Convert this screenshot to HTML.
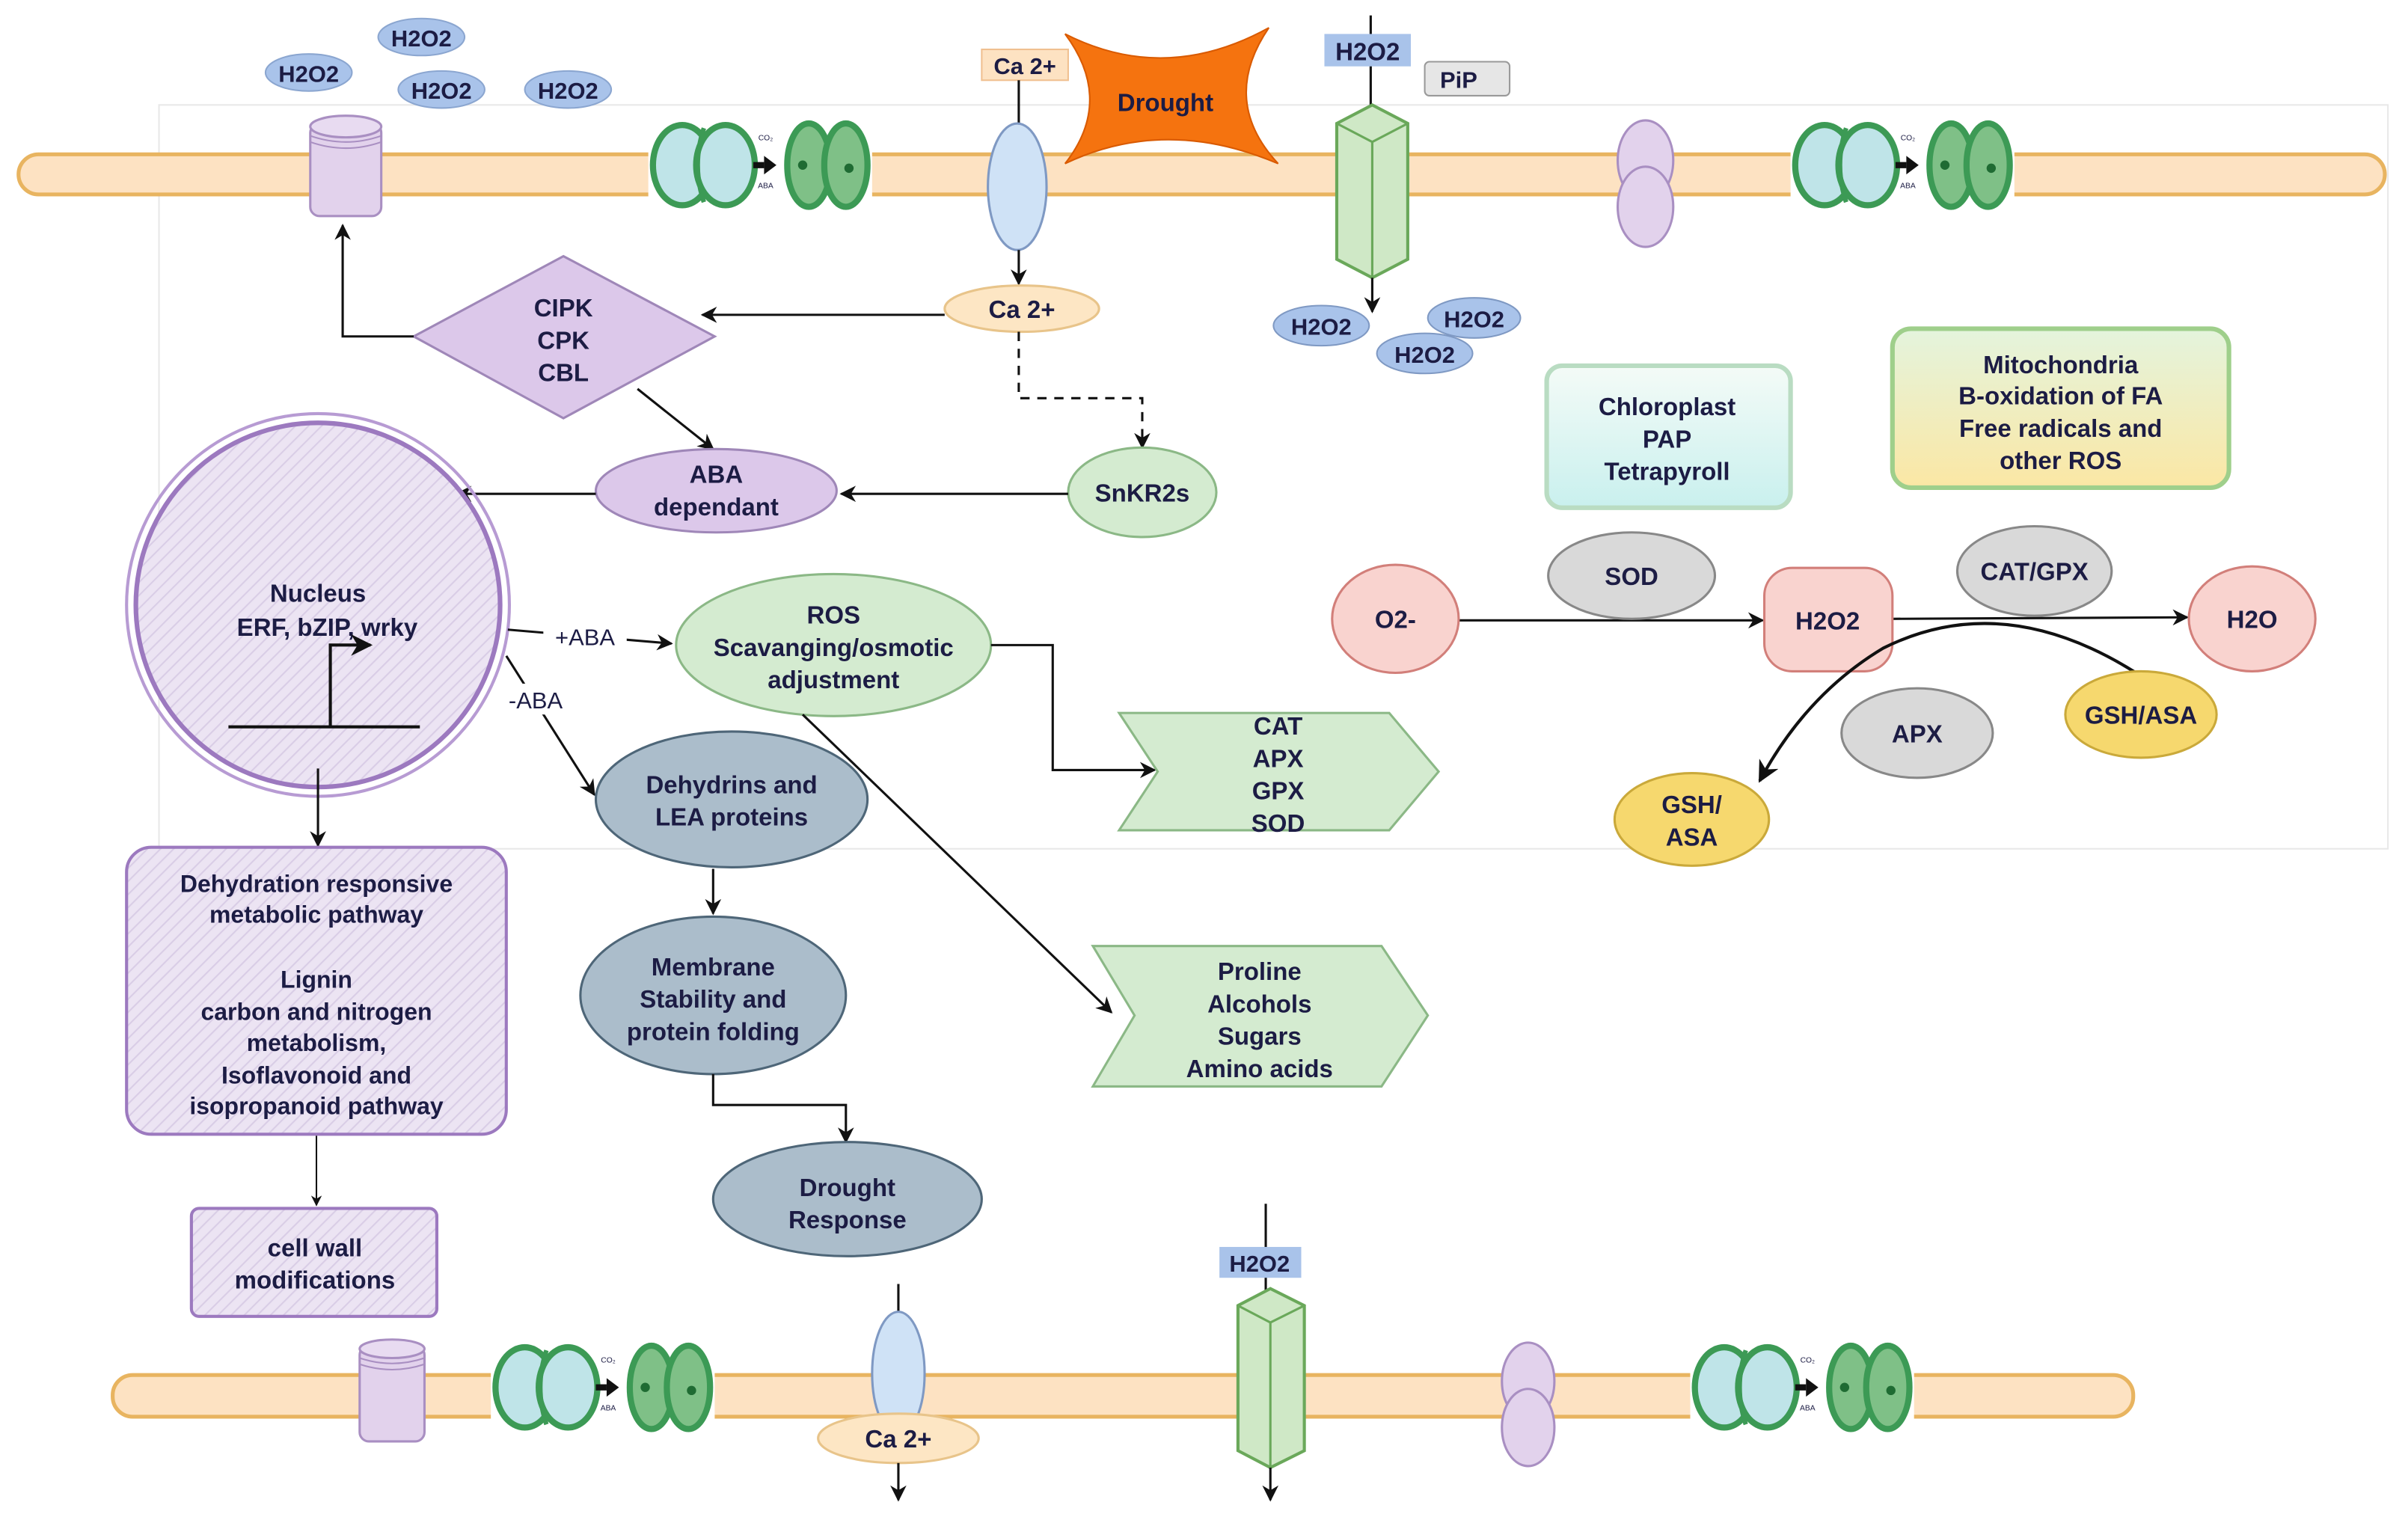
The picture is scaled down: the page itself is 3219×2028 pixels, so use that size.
<!DOCTYPE html>
<html><head><meta charset="utf-8"><style>
html,body{margin:0;padding:0;background:#fff;}
svg{display:block;}
text{font-family:"Liberation Sans",sans-serif;font-weight:bold;fill:#1c1c44;text-anchor:middle;}
</style></head><body>
<svg width="3219" height="2028" viewBox="0 0 1560 983" preserveAspectRatio="none" xmlns="http://www.w3.org/2000/svg">
<defs>
<marker id="ar" viewBox="0 0 10 10" refX="9" refY="5" markerWidth="7" markerHeight="7" orient="auto-start-reverse"><path d="M0,0 L10,5 L0,10 L3,5 z" fill="#111"/></marker>
<pattern id="hat" width="6" height="6" patternUnits="userSpaceOnUse" patternTransform="rotate(45)"><rect width="6" height="6" fill="#ece4f3"/><line x1="0" y1="0" x2="0" y2="6" stroke="#d9cde6" stroke-width="2"/></pattern>
<linearGradient id="gchl" x1="0" y1="0" x2="0" y2="1"><stop offset="0" stop-color="#f4fbf7"/><stop offset="1" stop-color="#c9f0ee"/></linearGradient>
<linearGradient id="gmit" x1="0" y1="0" x2="0" y2="1"><stop offset="0" stop-color="#e4f4dd"/><stop offset="1" stop-color="#fbe7a4"/></linearGradient>
<g id="stom">
<rect x="0" y="0" width="145" height="62" fill="#fff"/>
<ellipse cx="22" cy="32" rx="19" ry="26" fill="#bfe4e8" stroke="#3c9a55" stroke-width="4"/>
<ellipse cx="50" cy="32" rx="19" ry="26" fill="#bfe4e8" stroke="#3c9a55" stroke-width="4"/>
<path d="M36,8 Q28,32 36,56" fill="none" stroke="#3c9a55" stroke-width="3"/>
<rect x="68" y="30" width="7" height="4" fill="#111"/>
<polygon points="75,26 83,32 75,38" fill="#111"/>
<text x="76" y="16" style="font-size:5px;font-weight:normal">CO₂</text>
<text x="76" y="47" style="font-size:5px;font-weight:normal">ABA</text>
<ellipse cx="104" cy="32" rx="14" ry="27" fill="#7fc087" stroke="#3c9a55" stroke-width="4"/>
<ellipse cx="128" cy="32" rx="14" ry="27" fill="#7fc087" stroke="#3c9a55" stroke-width="4"/>
<circle cx="100" cy="32" r="3" fill="#1f6b33"/><circle cx="130" cy="34" r="3" fill="#1f6b33"/>
</g>
</defs>

<rect x="103" y="68" width="1444" height="482" fill="none" stroke="#e8e8e8" stroke-width="1"/>

<rect x="12" y="100" width="1533" height="26" rx="13" fill="#fde2c2" stroke="#e8b460" stroke-width="2.5"/>
<rect x="73" y="891" width="1309" height="27" rx="13" fill="#fde2c2" stroke="#e8b460" stroke-width="2.5"/>

<g style="font-size:15px">
<ellipse cx="200" cy="47" rx="28" ry="12" fill="#a9c3ea" stroke="#8ba6d0"/><text x="200" y="53">H2O2</text>
<ellipse cx="273" cy="24" rx="28" ry="12" fill="#a9c3ea" stroke="#8ba6d0"/><text x="273" y="30">H2O2</text>
<ellipse cx="286" cy="58" rx="28" ry="12" fill="#a9c3ea" stroke="#8ba6d0"/><text x="286" y="64">H2O2</text>
<ellipse cx="368" cy="58" rx="28" ry="12" fill="#a9c3ea" stroke="#8ba6d0"/><text x="368" y="64">H2O2</text>
</g>

<rect x="201" y="80" width="46" height="60" rx="6" fill="#e2d2ec" stroke="#a98fc2" stroke-width="1.5"/>
<ellipse cx="224" cy="82" rx="23" ry="7" fill="#e8dbf1" stroke="#a98fc2" stroke-width="1.5"/>
<path d="M201,88 Q224,96 247,88 M201,92 Q224,100 247,92" fill="none" stroke="#a98fc2"/>

<use href="#stom" x="420" y="75"/>
<use href="#stom" x="1160" y="75"/>

<rect x="636" y="32" width="56" height="20" fill="#fde2c2" stroke="#f0c090"/>
<text x="664" y="48" style="font-size:15px">Ca 2+</text>
<line x1="660" y1="52" x2="660" y2="82" stroke="#111" stroke-width="1.5"/>
<ellipse cx="659" cy="121" rx="19" ry="41" fill="#cfe2f6" stroke="#7f99c3" stroke-width="1.5"/>
<line x1="660" y1="162" x2="660" y2="184" stroke="#111" stroke-width="1.5" marker-end="url(#ar)"/>
<ellipse cx="662" cy="200" rx="50" ry="15" fill="#fde6c4" stroke="#e8c48a" stroke-width="1.5"/>
<text x="662" y="206" style="font-size:16px">Ca 2+</text>

<path d="M690,22 Q755,55 822,18 Q790,65 828,106 Q755,75 690,106 Q722,65 690,22 z" fill="#f5730f" stroke="#d95a00"/>
<text x="755" y="72" style="font-size:16px">Drought</text>

<line x1="888" y1="10" x2="888" y2="70" stroke="#111" stroke-width="1.5"/>
<rect x="858" y="22" width="56" height="21" fill="#a9c3ea"/>
<text x="886" y="39" style="font-size:16px">H2O2</text>
<rect x="923" y="40" width="55" height="22" rx="3" fill="#e6e6e6" stroke="#999"/>
<text x="945" y="57" style="font-size:15px">PiP</text>
<path d="M866,80 L889,68 L912,80 L912,168 L889,180 L866,168 z" fill="#cfe8c6" stroke="#6aa85a" stroke-width="2"/>
<path d="M866,80 L889,92 L912,80 M889,92 L889,180" fill="none" stroke="#6aa85a" stroke-width="1.5"/>
<line x1="889" y1="180" x2="889" y2="202" stroke="#111" stroke-width="1.5" marker-end="url(#ar)"/>
<g style="font-size:15px">
<ellipse cx="856" cy="211" rx="31" ry="13" fill="#a9c3ea" stroke="#7f99c3"/><text x="856" y="217">H2O2</text>
<ellipse cx="955" cy="206" rx="30" ry="13" fill="#a9c3ea" stroke="#7f99c3"/><text x="955" y="212">H2O2</text>
<ellipse cx="923" cy="229" rx="31" ry="13" fill="#a9c3ea" stroke="#7f99c3"/><text x="923" y="235">H2O2</text>
</g>

<ellipse cx="1066" cy="104" rx="18" ry="26" fill="#e2d2ec" stroke="#a98fc2" stroke-width="1.5"/>
<ellipse cx="1066" cy="134" rx="18" ry="26" fill="#e2d2ec" stroke="#a98fc2" stroke-width="1.5"/>

<path d="M365,166 L463,218 L365,271 L268,218 z" fill="#dcc8ea" stroke="#9f87b8" stroke-width="1.5"/>
<g style="font-size:16px"><text x="365" y="205">CIPK</text><text x="365" y="226">CPK</text><text x="365" y="247">CBL</text></g>
<line x1="612" y1="204" x2="455" y2="204" stroke="#111" stroke-width="1.5" marker-end="url(#ar)"/>
<polyline points="268,218 222,218 222,146" fill="none" stroke="#111" stroke-width="1.5" marker-end="url(#ar)"/>
<line x1="413" y1="252" x2="462" y2="291" stroke="#111" stroke-width="1.5" marker-end="url(#ar)"/>
<polyline points="660,215 660,258 740,258 740,290" fill="none" stroke="#111" stroke-width="1.5" stroke-dasharray="6,5" marker-end="url(#ar)"/>

<ellipse cx="740" cy="319" rx="48" ry="29" fill="#d4ebd0" stroke="#8bb886" stroke-width="1.5"/>
<text x="740" y="325" style="font-size:16px">SnKR2s</text>
<ellipse cx="464" cy="318" rx="78" ry="27" fill="#dcc8ea" stroke="#9f87b8" stroke-width="1.5"/>
<g style="font-size:16px"><text x="464" y="313">ABA</text><text x="464" y="334">dependant</text></g>
<line x1="692" y1="320" x2="545" y2="320" stroke="#111" stroke-width="1.5" marker-end="url(#ar)"/>
<line x1="386" y1="320" x2="296" y2="320" stroke="#111" stroke-width="1.5" marker-end="url(#ar)"/>

<circle cx="206" cy="392" r="118" fill="url(#hat)" stroke="#9c79bf" stroke-width="3"/>
<circle cx="206" cy="392" r="124" fill="none" stroke="#b79bd3" stroke-width="2"/>
<g style="font-size:16px;font-weight:normal"><text x="206" y="390">Nucleus</text><text x="212" y="412">ERF, bZIP, wrky</text></g>
<line x1="148" y1="471" x2="272" y2="471" stroke="#111" stroke-width="2"/>
<polyline points="214,471 214,418 240,418" fill="none" stroke="#111" stroke-width="2" marker-end="url(#ar)"/>

<line x1="329" y1="408" x2="435" y2="417" stroke="#111" stroke-width="1.5" marker-end="url(#ar)"/>
<rect x="352" y="403" width="54" height="18" fill="#fff"/>
<text x="379" y="418" style="font-size:15px;font-weight:normal">+ABA</text>
<line x1="328" y1="425" x2="385" y2="515" stroke="#111" stroke-width="1.5" marker-end="url(#ar)"/>
<rect x="320" y="443" width="54" height="20" fill="#fff"/>
<text x="347" y="459" style="font-size:15px;font-weight:normal">-ABA</text>

<ellipse cx="540" cy="418" rx="102" ry="46" fill="#d4ebd0" stroke="#8bb886" stroke-width="1.5"/>
<g style="font-size:16px;font-weight:normal"><text x="540" y="404">ROS</text><text x="540" y="425">Scavanging/osmotic</text><text x="540" y="446">adjustment</text></g>
<polyline points="642,418 682,418 682,499 748,499" fill="none" stroke="#111" stroke-width="1.5" marker-end="url(#ar)"/>
<line x1="520" y1="463" x2="720" y2="656" stroke="#111" stroke-width="1.5" marker-end="url(#ar)"/>

<path d="M725,462 L900,462 L932,500 L900,538 L725,538 L750,500 z" fill="#d4ebd0" stroke="#8bb886" stroke-width="1.5"/>
<g style="font-size:16px;font-weight:normal"><text x="828" y="476">CAT</text><text x="828" y="497">APX</text><text x="828" y="518">GPX</text><text x="828" y="539">SOD</text></g>
<path d="M708,613 L895,613 L925,658 L895,704 L708,704 L735,658 z" fill="#d4ebd0" stroke="#8bb886" stroke-width="1.5"/>
<g style="font-size:16px;font-weight:normal"><text x="816" y="635">Proline</text><text x="816" y="656">Alcohols</text><text x="816" y="677">Sugars</text><text x="816" y="698">Amino acids</text></g>

<ellipse cx="474" cy="518" rx="88" ry="44" fill="#abbdcb" stroke="#4e6678" stroke-width="1.5"/>
<g style="font-size:16px;font-weight:normal"><text x="474" y="514">Dehydrins and</text><text x="474" y="535">LEA proteins</text></g>
<line x1="462" y1="563" x2="462" y2="592" stroke="#111" stroke-width="1.5" marker-end="url(#ar)"/>
<ellipse cx="462" cy="645" rx="86" ry="51" fill="#abbdcb" stroke="#4e6678" stroke-width="1.5"/>
<g style="font-size:16px;font-weight:normal"><text x="462" y="632">Membrane</text><text x="462" y="653">Stability and</text><text x="462" y="674">protein folding</text></g>
<polyline points="462,696 462,716 548,716 548,740" fill="none" stroke="#111" stroke-width="1.5" marker-end="url(#ar)"/>
<ellipse cx="549" cy="777" rx="87" ry="37" fill="#abbdcb" stroke="#4e6678" stroke-width="1.5"/>
<g style="font-size:16px;font-weight:normal"><text x="549" y="775">Drought</text><text x="549" y="796">Response</text></g>

<line x1="206" y1="498" x2="206" y2="548" stroke="#111" stroke-width="1.5" marker-end="url(#ar)"/>
<rect x="82" y="549" width="246" height="186" rx="16" fill="url(#hat)" stroke="#9c79bf" stroke-width="2"/>
<g style="font-size:15.5px;font-weight:normal"><text x="205" y="578">Dehydration responsive</text><text x="205" y="598">metabolic pathway</text><text x="205" y="640">Lignin</text><text x="205" y="661">carbon and nitrogen</text><text x="205" y="681">metabolism,</text><text x="205" y="702">Isoflavonoid and</text><text x="205" y="722">isopropanoid pathway</text></g>
<line x1="205" y1="736" x2="205" y2="781" stroke="#111" stroke-width="1" marker-end="url(#ar)"/>
<rect x="124" y="783" width="159" height="70" rx="5" fill="url(#hat)" stroke="#9c79bf" stroke-width="2"/>
<g style="font-size:16px;font-weight:normal"><text x="204" y="814">cell wall</text><text x="204" y="835">modifications</text></g>

<rect x="1002" y="237" width="158" height="92" rx="10" fill="url(#gchl)" stroke="#b9dcc2" stroke-width="3"/>
<g style="font-size:16px;font-weight:normal"><text x="1080" y="269">Chloroplast</text><text x="1080" y="290">PAP</text><text x="1080" y="311">Tetrapyroll</text></g>
<rect x="1226" y="213" width="218" height="103" rx="12" fill="url(#gmit)" stroke="#9fcf8b" stroke-width="3"/>
<g style="font-size:16px;font-weight:normal"><text x="1335" y="242">Mitochondria</text><text x="1335" y="262">B-oxidation of FA</text><text x="1335" y="283">Free radicals and</text><text x="1335" y="304">other ROS</text></g>

<line x1="945" y1="402" x2="1142" y2="402" stroke="#111" stroke-width="1.5" marker-end="url(#ar)"/>
<line x1="1226" y1="401" x2="1417" y2="400" stroke="#111" stroke-width="1.5" marker-end="url(#ar)"/>
<ellipse cx="904" cy="401" rx="41" ry="35" fill="#f9d3cf" stroke="#d27f7a" stroke-width="1.5"/>
<text x="904" y="407" style="font-size:16px">O2-</text>
<ellipse cx="1057" cy="373" rx="54" ry="28" fill="#d9d9d9" stroke="#888" stroke-width="1.5"/>
<text x="1057" y="379" style="font-size:16px">SOD</text>
<rect x="1143" y="368" width="83" height="67" rx="18" fill="#f9d3cf" stroke="#d27f7a" stroke-width="1.5"/>
<text x="1184" y="408" style="font-size:16px">H2O2</text>
<ellipse cx="1318" cy="370" rx="50" ry="29" fill="#d9d9d9" stroke="#888" stroke-width="1.5"/>
<text x="1318" y="376" style="font-size:16px">CAT/GPX</text>
<ellipse cx="1459" cy="401" rx="41" ry="34" fill="#f9d3cf" stroke="#d27f7a" stroke-width="1.5"/>
<text x="1459" y="407" style="font-size:16px">H2O</text>
<path d="M1390,440 Q1300,380 1220,420 Q1170,450 1140,506" fill="none" stroke="#111" stroke-width="2" marker-end="url(#ar)"/>
<ellipse cx="1242" cy="475" rx="49" ry="29" fill="#d9d9d9" stroke="#888" stroke-width="1.5"/>
<text x="1242" y="481" style="font-size:16px">APX</text>
<ellipse cx="1387" cy="463" rx="49" ry="28" fill="#f6d86e" stroke="#caa93a" stroke-width="1.5"/>
<text x="1387" y="469" style="font-size:16px">GSH/ASA</text>
<ellipse cx="1096" cy="531" rx="50" ry="30" fill="#f6d86e" stroke="#caa93a" stroke-width="1.5"/>
<g style="font-size:16px"><text x="1096" y="527">GSH/</text><text x="1096" y="548">ASA</text></g>

<rect x="233" y="872" width="42" height="62" rx="6" fill="#e2d2ec" stroke="#a98fc2" stroke-width="1.5"/>
<ellipse cx="254" cy="874" rx="21" ry="6" fill="#e8dbf1" stroke="#a98fc2" stroke-width="1.5"/>
<path d="M233,880 Q254,887 275,880 M233,884 Q254,891 275,884" fill="none" stroke="#a98fc2"/>
<use href="#stom" x="318" y="867"/>
<use href="#stom" x="1095" y="867"/>
<line x1="582" y1="832" x2="582" y2="852" stroke="#111" stroke-width="1.5"/>
<ellipse cx="582" cy="890" rx="17" ry="40" fill="#cfe2f6" stroke="#7f99c3" stroke-width="1.5"/>
<ellipse cx="582" cy="932" rx="52" ry="16" fill="#fde6c4" stroke="#e8c48a" stroke-width="1.5"/>
<text x="582" y="938" style="font-size:16px">Ca 2+</text>
<line x1="582" y1="948" x2="582" y2="972" stroke="#111" stroke-width="1.5" marker-end="url(#ar)"/>
<line x1="820" y1="780" x2="820" y2="838" stroke="#111" stroke-width="1.5"/>
<rect x="790" y="808" width="53" height="20" fill="#a9c3ea"/>
<text x="816" y="824" style="font-size:15px">H2O2</text>
<path d="M802,846 L823,835 L845,846 L845,940 L823,951 L802,940 z" fill="#cfe8c6" stroke="#6aa85a" stroke-width="2"/>
<path d="M802,846 L823,857 L845,846 M823,857 L823,951" fill="none" stroke="#6aa85a" stroke-width="1.5"/>
<line x1="823" y1="951" x2="823" y2="972" stroke="#111" stroke-width="1.5" marker-end="url(#ar)"/>
<ellipse cx="990" cy="895" rx="17" ry="25" fill="#e2d2ec" stroke="#a98fc2" stroke-width="1.5"/>
<ellipse cx="990" cy="925" rx="17" ry="25" fill="#e2d2ec" stroke="#a98fc2" stroke-width="1.5"/>
</svg>
</body></html>
